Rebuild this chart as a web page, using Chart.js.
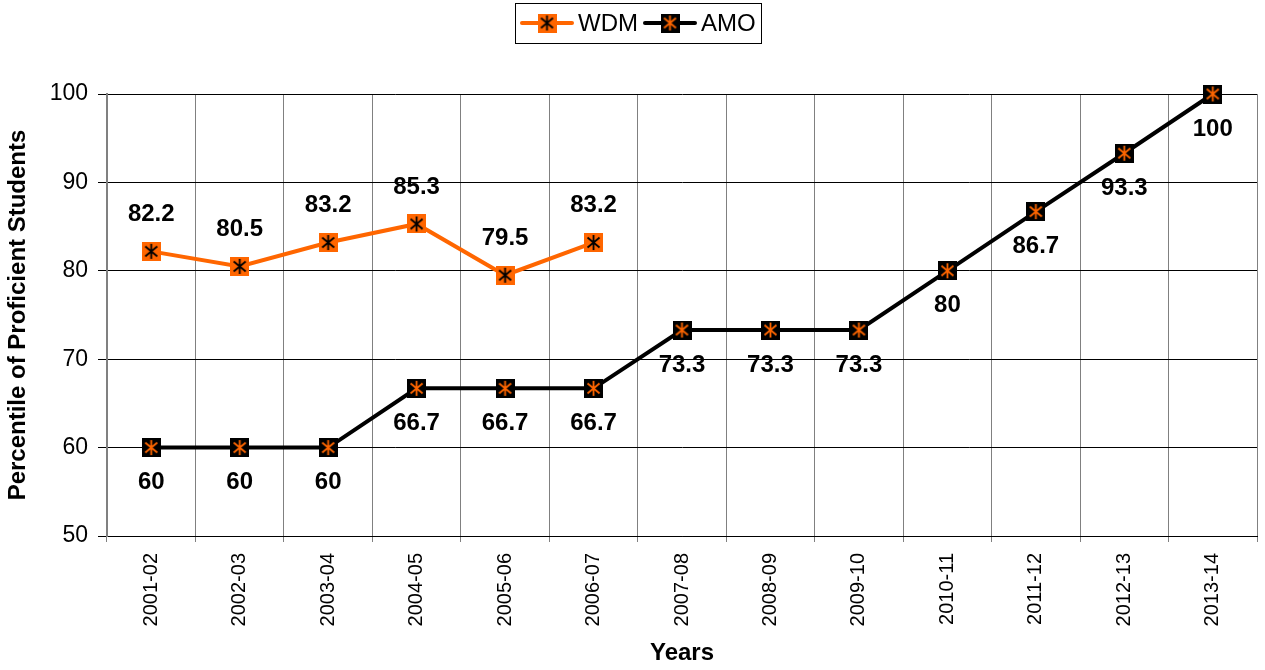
<!DOCTYPE html>
<html>
<head>
<meta charset="utf-8">
<script src="https://cdn.jsdelivr.net/npm/chart.js@4/dist/chart.umd.min.js"></script>
<style>
  body { margin: 0; background: #fff; }
  #wrap { width: 1265px; height: 670px; position: relative; }
</style>
</head>
<body>
<div id="wrap"><canvas id="chart"></canvas></div>
<script>
const years = ["2001-02", "2002-03", "2003-04", "2004-05", "2005-06", "2006-07", "2007-08",
  "2008-09", "2009-10", "2010-11", "2011-12", "2012-13", "2013-14"];
const wdm = [82.2, 80.5, 83.2, 85.3, 79.5, 83.2, null, null, null, null, null, null, null];
const amo = [60, 60, 60, 66.7, 66.7, 66.7, 73.3, 73.3, 73.3, 80, 86.7, 93.3, 100];
const yTicks = [50, 60, 70, 80, 90, 100];

const ORANGE = "#ff6600";
const FONT = "'Liberation Sans', Arial, sans-serif";

function makeMarker(fill, star) {
  const c = document.createElement("canvas");
  c.width = 19;
  c.height = 19;
  const ctx = c.getContext("2d");
  ctx.fillStyle = fill;
  ctx.fillRect(0, 0, 19, 19);
  ctx.strokeStyle = star;
  ctx.lineWidth = 1.8;
  ctx.beginPath();
  ctx.moveTo(9.5, 2); ctx.lineTo(9.5, 17);
  ctx.moveTo(3.5, 4.5); ctx.lineTo(15.5, 14.5);
  ctx.moveTo(15.5, 4.5); ctx.lineTo(3.5, 14.5);
  ctx.stroke();
  return c;
}

const wdmMarker = makeMarker(ORANGE, "#000");
const amoMarker = makeMarker("#000", ORANGE);

// value labels: WDM above the point, AMO below
const valueLabels = {
  id: "valueLabels",
  afterDatasetsDraw(chart) {
    const ctx = chart.ctx;
    ctx.save();
    ctx.font = "bold 24px " + FONT;
    ctx.fillStyle = "#000";
    ctx.textAlign = "center";
    ctx.textBaseline = "middle";
    chart.data.datasets.forEach((ds, i) => {
      const meta = chart.getDatasetMeta(i);
      meta.data.forEach((pt, j) => {
        const v = ds.data[j];
        if (v === null) return;
        const dy = i === 0 ? -37 : 35;
        ctx.fillText(String(v), pt.x, pt.y + dy);
      });
    });
    ctx.restore();
  },
};

// boxed legend with line + marker samples
const boxLegend = {
  id: "boxLegend",
  afterDraw(chart) {
    const ctx = chart.ctx;
    ctx.save();
    ctx.strokeStyle = "#000";
    ctx.lineWidth = 1;
    ctx.strokeRect(515.5, 3.5, 246, 40);
    const starts = [522, 645];
    ctx.font = "24px " + FONT;
    ctx.textBaseline = "middle";
    ctx.textAlign = "left";
    chart.data.datasets.forEach((ds, i) => {
      const x = starts[i];
      const y = 23;
      ctx.strokeStyle = ds.borderColor;
      ctx.lineWidth = 4;
      ctx.lineCap = "round";
      ctx.beginPath();
      ctx.moveTo(x, y);
      ctx.lineTo(x + 50, y);
      ctx.stroke();
      ctx.drawImage(ds.pointStyle, x + 25 - 9.5, y - 9.5);
      ctx.fillStyle = "#000";
      ctx.fillText(ds.label, x + 56, y + 1);
    });
    ctx.restore();
  },
};

new Chart(document.getElementById("chart"), {
  type: "line",
  data: {
    labels: years,
    datasets: [
      {
        label: "WDM",
        data: wdm,
        borderColor: ORANGE,
        borderWidth: 4,
        pointStyle: wdmMarker,
        tension: 0,
        clip: false,
      },
      {
        label: "AMO",
        data: amo,
        borderColor: "#000",
        borderWidth: 4,
        pointStyle: amoMarker,
        tension: 0,
        clip: false,
      },
    ],
  },
  options: {
    responsive: true,
    maintainAspectRatio: false,
    animation: false,
    events: [],
    layout: { padding: { top: 94, right: 5, left: 0, bottom: 0 } },
    plugins: {
      legend: { display: false },
      tooltip: { enabled: false },
    },
    scales: {
      x: {
        offset: true,
        grid: { offset: true, color: "#808080", tickLength: 6 },
        border: { color: "#000" },
        ticks: {
          minRotation: 90,
          maxRotation: 90,
          padding: 11,
          color: "#000",
          font: { family: FONT, size: 20 },
        },
        title: {
          display: true,
          text: "Years",
          color: "#000",
          font: { family: FONT, size: 24, weight: "bold" },
          padding: { top: 0, bottom: 2 },
        },
        afterFit(scale) { scale.height = 134; },
      },
      y: {
        min: 50,
        max: 100,
        afterBuildTicks(scale) { scale.ticks = yTicks.map((v) => ({ value: v })); },
        grid: { color: "#000", tickLength: 9 },
        border: { color: "#808080", width: 2 },
        ticks: {
          padding: 10,
          color: "#000",
          font: { family: FONT, size: 23 },
        },
        title: {
          display: true,
          text: "Percentile of Proficient Students",
          color: "#000",
          font: { family: FONT, size: 24, weight: "bold" },
          padding: { top: 4, bottom: 0 },
        },
        afterFit(scale) { scale.width = 107; },
      },
    },
  },
  plugins: [valueLabels, boxLegend],
});
</script>
</body>
</html>
